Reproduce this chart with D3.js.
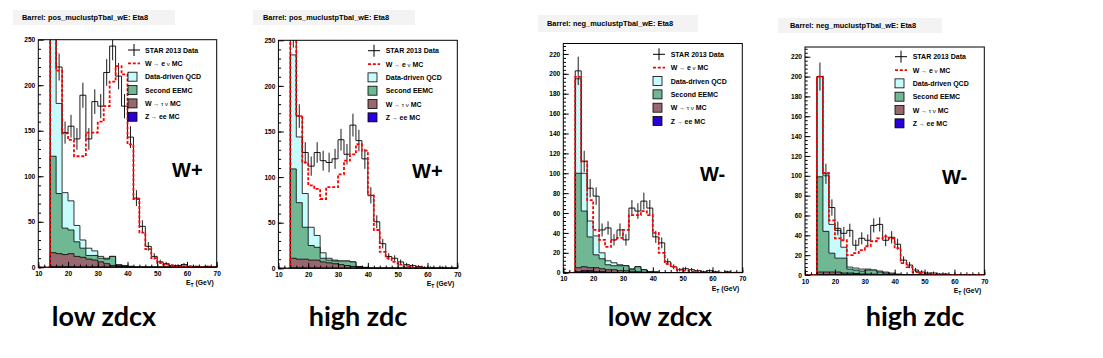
<!DOCTYPE html>
<html><head><meta charset="utf-8">
<script src="https://cdn.jsdelivr.net/npm/d3@7"></script>
<style>body{margin:0;background:#fff}svg{display:block}</style>
</head><body>
<svg id="c" width="1103" height="358"></svg>
<script>
// ---------- data ----------
const binLow = [14,16,18,20,22,24,26,28,30,32,34,36,38,40,42,44,46,48,50,52,54,56,58,60,62,64,66,68];
const xTickValues = [10,20,30,40,50,60,70];
const yTicksPos = [0,50,100,150,200,250];
const yTicksNeg = [0,20,40,60,80,100,120,140,160,180,200,220];
const legendLabels = ["STAR 2013 Data","W → e ν MC","Data-driven QCD","Second EEMC","W → τ ν MC","Z → ee MC"];
const panelTitles = ["Barrel: pos_muclustpTbal_wE: Eta8","Barrel: pos_muclustpTbal_wE: Eta8","Barrel: neg_muclustpTbal_wE: Eta8","Barrel: neg_muclustpTbal_wE: Eta8"];
const panelTags = ["W+","W+","W-","W-"];
const bottomLabels = ["low zdcx","high zdc","low zdcx","high zdc"];

// Panel 1: W+ low zdcx
const p1Data = [330,220,148,155,141,189,141,182,177,214,243,210,177,143,76,45,23,12,6,4,2,2,3,1,1,0,1,0];
const p1WMC  = [330,216,147,140,122,122,148,148,160,177,204,221,212,135,75,38,20,10,5,3,2,1,1,1,0,0,0,0];
const p1QCD  = [178,99,39,32,18,9,8,5,2,1,0,1,1,0,0,0,0,0,0,0,0,0,0,0,0,0,0,0];
const p1EEMC = [106,66,29,26,16,10,4,5,4,5,10,1,0.5,0.7,0,0,0,0,0,0,0,0,0,0,0,0,0,0];
const p1Tau  = [15.4,14.4,13.5,14.5,11.6,10.7,8.7,7.8,5.8,3.8,1.9,1,0.5,0.3,0,0,0,0,0,0,0,0,0,0,0,0,0,0];
const p1Z    = [0.6,0.6,0.5,0.5,0.4,0.3,0.3,0.2,0.2,0.2,0.1,0,0,0,0,0,0,0,0,0,0,0,0,0,0,0,0,0];

// Panel 2: W+ high zdc
const p2Data = [258,167,127,112,127,118,116,120,141,125,157,140,120,80,51,27,13,11,7,4,3,2,1,1,0,1,0,0];
const p2WMC  = [252,167,116,91,87,76,89,89,103,118,125,136,129,80,42,18,11,7,4,2,1,1,0,0,0,0,0,0];
const p2QCD  = [125,72,37,20,13,6,2,1,0,0,0,0,0,0,0,0,0,0,0,0,0,0,0,0,0,0,0,0];
const p2EEMC = [98,62,35,16,14,4,3,3,4,5,5,1,0.5,0,0,0,0,0,0,0,0,0,0,0,0,0,0,0];
const p2Tau  = [10.6,9.6,9.7,8.7,8.7,6.8,5.8,4.8,3.9,2.9,2,1,0.5,0,0,0,0,0,0,0,0,0,0,0,0,0,0,0];
const p2Z    = [0.4,0.4,0.3,0.3,0.3,0.2,0.2,0.2,0.1,0.1,0,0,0,0,0,0,0,0,0,0,0,0,0,0,0,0,0,0];

// Panel 3: W- low zdcx
const p3Data = [203,112,85,77,43,45,33,43,33,65,62,72,65,36,30,11,6,3,4,3,2,1,2,1,0,1,0,0];
const p3WMC  = [197,112,73,43,33,26,33,35,43,58,58,62,58,40,20,9,6,3,2,1,1,0,0,0,0,0,0,0];
const p3QCD  = [95,38,16,19,6,4,3,1,0,1,0,0,0,0.5,0,0,0,0,0,0,0,0,0,0,0,0,0,0];
const p3EEMC = [95,56,31,13,10,5,4,5,5,2,5,2.5,0.7,0.5,0,0,0,0,0,0,0,0,0,0,0,0,0,0];
const p3Tau  = [4,4,3,4,3,2.5,2.7,1.8,1.9,1,1,0.5,0.3,0,0,0,0,0,0,0,0,0,0,0,0,0,0,0];
const p3Z    = [1,2,2,1,1,0.5,0.3,0.2,0.1,0,0,0,0,0,0,0,0,0,0,0,0,0,0,0,0,0,0,0];

// Panel 4: W- high zdc
const p4Data = [200,102,68,47,42,45,30,37,35,50,51,35,38,31,15,10,5,3,2,2,1,1,0,0,0,0,0,0];
const p4WMC  = [200,103,55,37,35,20,22,25,29,34,37,39,37,27,12,8,3,2,1,0,0,0,0,0,0,0,0,0];
const p4QCD  = [101,56,29,28,11,2,2,2,1,0,1,1,1,0.5,0,0,0,0,0,0,0,0,0,0,0,0,0,0];
const p4EEMC = [96,41,19,14,15,4,3.5,3,4,4.2,2.5,1.7,1,0.5,0,0,0,0,0,0,0,0,0,0,0,0,0,0];
const p4Tau  = [2.7,2.7,2.7,2.8,1.8,1.9,1.4,1,1,0.8,0.5,0.3,0,0,0,0,0,0,0,0,0,0,0,0,0,0,0,0];
const p4Z    = [0.3,0.3,0.3,0.2,0.2,0.1,0.1,0,0,0,0,0,0,0,0,0,0,0,0,0,0,0,0,0,0,0,0,0];

// ---------- layout ----------
const panels = [
  {left:38.3, right:216.7, top:39.7, bottom:267.3, ymax:250, yTicks:yTicksPos, yMinorStep:10,
   data:p1Data, wmc:p1WMC, qcd:p1QCD, eemc:p1EEMC, tau:p1Tau, z:p1Z,
   title:{x:13,y:10,w:162,h:15,tx:22,ty:20}, legend:{mx:128,tx:145,y0:50,dy:13.35},
   tag:{x:172,y:177}, label:{x:104,y:326}},
  {left:278.4, right:457.3, top:40.3, bottom:268.3, ymax:250, yTicks:yTicksPos, yMinorStep:10,
   data:p2Data, wmc:p2WMC, qcd:p2QCD, eemc:p2EEMC, tau:p2Tau, z:p2Z,
   title:{x:253,y:10,w:162,h:15,tx:263,ty:20}, legend:{mx:368,tx:385.7,y0:50.7,dy:13.33},
   tag:{x:412,y:178}, label:{x:358,y:326}},
  {left:563.3, right:742.3, top:43.5, bottom:272.7, ymax:230.5, yTicks:yTicksNeg, yMinorStep:4,
   data:p3Data, wmc:p3WMC, qcd:p3QCD, eemc:p3EEMC, tau:p3Tau, z:p3Z,
   title:{x:538,y:15,w:160,h:17,tx:547,ty:25.5}, legend:{mx:653,tx:670.7,y0:54.3,dy:13.35},
   tag:{x:700,y:181}, label:{x:660,y:326}},
  {left:805, right:984.3, top:47, bottom:275, ymax:229.8, yTicks:yTicksNeg, yMinorStep:4,
   data:p4Data, wmc:p4WMC, qcd:p4QCD, eemc:p4EEMC, tau:p4Tau, z:p4Z,
   title:{x:778,y:18,w:164,h:15,tx:790,ty:28}, legend:{mx:895,tx:912.7,y0:56.7,dy:13.33},
   tag:{x:942,y:184}, label:{x:915,y:326}}
];

const colors = {qcd:"#c8fbfb", eemc:"#70b893", tau:"#98686f", z:"#2a00d8"};
const FONT = "'Liberation Sans', Arial, Helvetica, sans-serif";
const svg = d3.select("#c");

panels.forEach((cfg, pi) => {
  const x = d3.scaleLinear().domain([10,70]).range([cfg.left, cfg.right]);
  const y = d3.scaleLinear().domain([0,cfg.ymax]).range([cfg.bottom, cfg.top]);
  const clipId = "clip" + pi;
  svg.append("clipPath").attr("id", clipId).append("rect")
    .attr("x", cfg.left).attr("y", cfg.top)
    .attr("width", cfg.right - cfg.left).attr("height", cfg.bottom - cfg.top);
  const g = svg.append("g").attr("clip-path", `url(#${clipId})`);

  // stacked backgrounds
  const rows = binLow.map((b,i) => ({b, z:cfg.z[i], tau:cfg.tau[i], eemc:cfg.eemc[i], qcd:cfg.qcd[i]}));
  const series = d3.stack().keys(["z","tau","eemc","qcd"])(rows);
  const area = d3.area().curve(d3.curveStepAfter)
    .x(d => x(d.e)).y0(y(0)).y1(d => y(d.v));
  series.slice().reverse().forEach(s => {
    const pts = s.map((d,i) => ({e: binLow[i], v: d[1]}));
    pts.push({e: binLow[binLow.length-1] + 2, v: s[s.length-1][1]});
    g.append("path").attr("d", area(pts))
      .attr("fill", colors[s.key]).attr("stroke", "#000").attr("stroke-width", 0.8);
  });

  const line = d3.line().curve(d3.curveStepAfter).x(d => x(d.e)).y(d => y(d.v));
  function stepPts(vals) {
    const pts = [{e:10, v:0}];
    vals.forEach((v,i) => pts.push({e: binLow[i], v}));
    pts.push({e: binLow[binLow.length-1] + 2, v: vals[vals.length-1]});
    pts.push({e: binLow[binLow.length-1] + 2, v: 0});
    return pts;
  }

  // data step + error bars
  g.append("path").attr("d", line(stepPts(cfg.data)))
    .attr("fill", "none").attr("stroke", "#000").attr("stroke-width", 0.9);
  g.selectAll(".err").data(cfg.data.map((v,i) => ({v, c: binLow[i] + 1})).filter(d => d.v > 0))
    .enter().append("line")
    .attr("x1", d => x(d.c)).attr("x2", d => x(d.c))
    .attr("y1", d => y(d.v - Math.sqrt(d.v))).attr("y2", d => y(d.v + Math.sqrt(d.v)))
    .attr("stroke", "#000").attr("stroke-width", 0.9);

  // W -> e nu MC (red dashed)
  g.append("path").attr("d", line(stepPts(cfg.wmc)))
    .attr("fill", "none").attr("stroke", "#ff0000").attr("stroke-width", 1.8)
    .attr("stroke-dasharray", "3,1.8");

  // frame
  svg.append("rect").attr("x", cfg.left).attr("y", cfg.top)
    .attr("width", cfg.right - cfg.left).attr("height", cfg.bottom - cfg.top)
    .attr("fill", "none").attr("stroke", "#000").attr("stroke-width", 1);

  // axes
  const tickLen = 5.4;
  const xMinor = d3.range(10, 70.001, 2);
  const yMinor = d3.range(0, cfg.ymax, cfg.yMinorStep);
  const styleAxis = sel => {
    sel.select(".domain").remove();
    sel.selectAll("line").attr("stroke", "#000").attr("stroke-width", 1);
    sel.selectAll("text").attr("font-family", FONT).attr("font-size", 6.6)
      .attr("font-weight", "bold").attr("fill", "#000");
  };
  svg.append("g").attr("transform", `translate(0,${cfg.bottom})`)
    .call(d3.axisBottom(x).tickValues(xMinor).tickSize(-tickLen/2).tickFormat(""))
    .call(styleAxis);
  svg.append("g").attr("transform", `translate(0,${cfg.bottom})`)
    .call(d3.axisBottom(x).tickValues(xTickValues).tickSize(-tickLen).tickPadding(4))
    .call(styleAxis);
  svg.append("g").attr("transform", `translate(${cfg.left},0)`)
    .call(d3.axisLeft(y).tickValues(yMinor).tickSize(-tickLen/2).tickFormat(""))
    .call(styleAxis);
  svg.append("g").attr("transform", `translate(${cfg.left},0)`)
    .call(d3.axisLeft(y).tickValues(cfg.yTicks).tickSize(-tickLen).tickPadding(3))
    .call(styleAxis);

  // x axis title
  const xt = svg.append("text").attr("x", cfg.right - 3).attr("y", cfg.bottom + 18)
    .attr("text-anchor", "end").attr("font-family", FONT).attr("font-size", 6.8)
    .attr("font-weight", "bold");
  xt.append("tspan").text("E");
  xt.append("tspan").attr("dy", 2).attr("font-size", 5).text("T");
  xt.append("tspan").attr("dy", -2).text(" (GeV)");

  // title box
  svg.append("rect").attr("x", cfg.title.x).attr("y", cfg.title.y)
    .attr("width", cfg.title.w).attr("height", cfg.title.h).attr("fill", "#f3f3f3");
  svg.append("text").attr("x", cfg.title.tx).attr("y", cfg.title.ty)
    .attr("font-family", FONT).attr("font-size", 7.4).attr("font-weight", "bold")
    .text(panelTitles[pi]);

  // legend
  const L = cfg.legend;
  legendLabels.forEach((lab, k) => {
    const cy = L.y0 + k * L.dy;
    if (k === 0) {
      svg.append("line").attr("x1", L.mx).attr("x2", L.mx + 12).attr("y1", cy).attr("y2", cy).attr("stroke", "#000");
      svg.append("line").attr("x1", L.mx + 6).attr("x2", L.mx + 6).attr("y1", cy - 6).attr("y2", cy + 6).attr("stroke", "#000");
    } else if (k === 1) {
      svg.append("line").attr("x1", L.mx).attr("x2", L.mx + 12).attr("y1", cy).attr("y2", cy)
        .attr("stroke", "#ff0000").attr("stroke-width", 1.8).attr("stroke-dasharray", "3,1.8");
    } else {
      const key = ["qcd","eemc","tau","z"][k - 2];
      svg.append("rect").attr("x", L.mx).attr("y", cy - 4.5).attr("width", 9).attr("height", 9)
        .attr("fill", colors[key]).attr("stroke", "#000").attr("stroke-width", 0.8);
    }
    const t = svg.append("text").attr("x", L.tx).attr("y", cy + 2.6)
      .attr("font-family", FONT).attr("font-size", 7).attr("font-weight", "bold");
    const parts = lab.split(" ");
    if (lab.includes("→")) {
      parts.forEach((p, j) => {
        const sym = (p === "→" || p === "ν" || p === "τ");
        t.append("tspan").attr("font-weight", sym ? "normal" : "bold")
          .attr("font-size", sym ? 6 : 7)
          .text((j ? "  " : "") + p);
      });
    } else {
      t.text(lab);
    }
  });

  // W+ / W- tag
  svg.append("text").attr("x", cfg.tag.x).attr("y", cfg.tag.y)
    .attr("font-family", FONT).attr("font-size", 20).attr("font-weight", "bold")
    .text(panelTags[pi]);

  // bottom label
  svg.append("text").attr("x", cfg.label.x).attr("y", cfg.label.y)
    .attr("text-anchor", "middle").attr("font-family", "Lato, 'Open Sans', sans-serif")
    .attr("font-size", 27).attr("font-weight", "bold")
    .text(bottomLabels[pi]);
});
</script>
</body></html>
